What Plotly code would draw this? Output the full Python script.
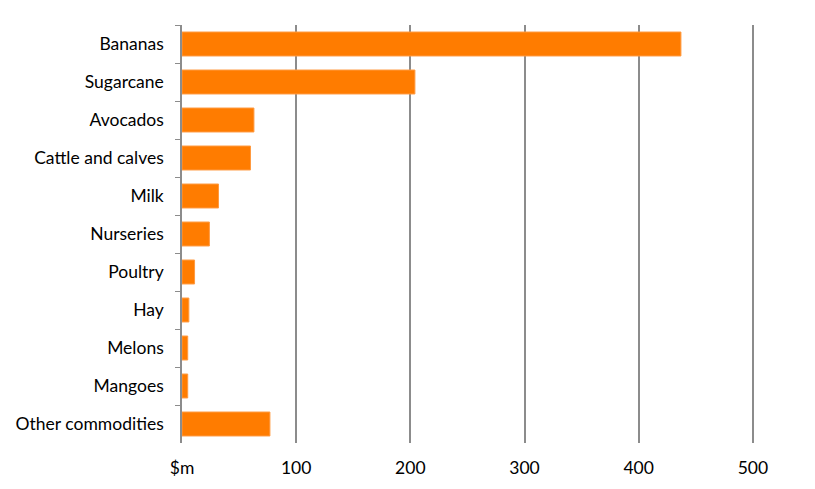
import plotly.graph_objects as go

commodities = ['Bananas', 'Sugarcane', 'Avocados', 'Cattle and calves', 'Milk',
               'Nurseries', 'Poultry', 'Hay', 'Melons', 'Mangoes', 'Other commodities']
values = [437, 204, 63, 60, 32, 24, 11, 6, 5, 5, 77]
x_ticks = [0, 100, 200, 300, 400, 500]
x_tick_labels = ['$m', '100', '200', '300', '400', '500']

fig = go.Figure(go.Bar(
    x=values, y=commodities, orientation='h',
    marker=dict(color='#FF7C00', line=dict(color='#FF9A40', width=1)),
))

# the page body adds an 8px offset, so size the figure a bit smaller
fig.update_layout(
    width=807, height=481,
    margin=dict(l=174, r=61, t=17, b=46),
    plot_bgcolor='white', paper_bgcolor='white',
    font=dict(family='Lato', size=17.5, color='black'),
    bargap=0.37,
    showlegend=False,
)
fig.update_xaxes(range=[0, 501], tickvals=x_ticks, ticktext=x_tick_labels,
                 showgrid=True, gridcolor='#8C8C8C', gridwidth=1.5,
                 zeroline=False, showline=False, ticks='', ticklabelstandoff=12,
                 automargin=False)
fig.update_yaxes(type='category', autorange='reversed', showline=True,
                 linecolor='#8C8C8C', linewidth=1.5, ticks='outside',
                 tickson='boundaries', ticklen=5, tickcolor='#8C8C8C',
                 showgrid=False, ticklabelstandoff=13, automargin=False)

fig.write_html("out.html")
